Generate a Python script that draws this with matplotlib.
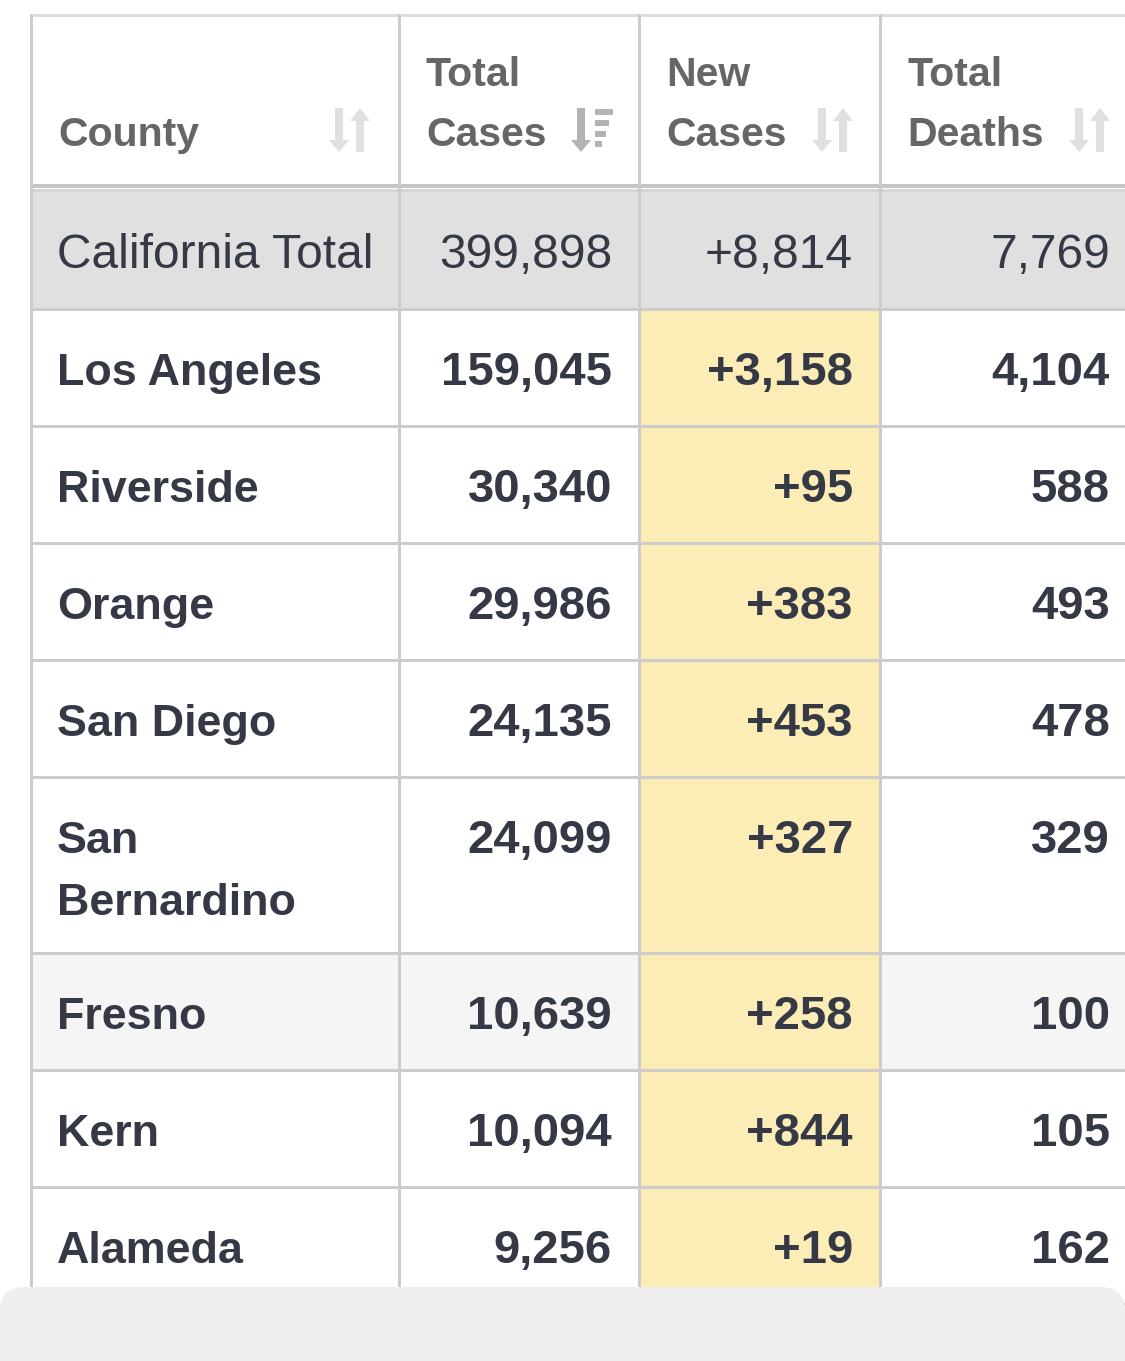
import matplotlib
matplotlib.use("Agg")
import matplotlib.pyplot as plt
from matplotlib.patches import Rectangle, Polygon, FancyBboxPatch

plt.rcParams['font.family'] = ['Liberation Sans', 'DejaVu Sans']

# 表格数据
headers = [["County"], ["Total", "Cases"], ["New", "Cases"], ["Total", "Deaths"]]
sorted_col = 1  # 当前按 Total Cases 降序排列
total_label = "California Total"
total_values = ["399,898", "+8,814", "7,769"]
counties = ["Los Angeles", "Riverside", "Orange", "San Diego", "San Bernardino",
            "Fresno", "Kern", "Alameda"]
total_cases = [159045, 30340, 29986, 24135, 24099, 10639, 10094, 9256]
new_cases = [3158, 95, 383, 453, 327, 258, 844, 19]
total_deaths = [4104, 588, 493, 478, 329, 100, 105, 162]
striped_row = 5  # Fresno 行为浅灰底

# 样式
W, H = 1125, 1361
col_x = [31, 399, 639, 880, 1140]
grid_c = '#cccccc'
head_c = '#666666'
text_c = '#353945'
yellow = '#fcedb6'
stripe = '#f5f5f5'
total_bg = '#e0e0e0'
px = 0.72  # 1 像素对应的磅值

fig = plt.figure(figsize=(W / 100, H / 100), dpi=100)
ax = fig.add_axes([0, 0, 1, 1])
ax.set_xlim(0, W)
ax.set_ylim(H, 0)
ax.axis('off')


def hline(y, c=grid_c, lw=3):
    ax.plot([col_x[0] - 1, W], [y, y], color=c, lw=lw * px, solid_capstyle='butt', zorder=3)


def sort_icon(x0, active):
    light = '#e0e0e0'
    dark = '#b3b3b3'
    c1 = dark if active else light
    # 向下箭头
    ax.add_patch(Rectangle((x0 + 6, 108), 8, 33, color=c1, lw=0, zorder=4))
    ax.add_patch(Polygon([(x0, 140), (x0 + 20, 140), (x0 + 10, 152)], closed=True,
                         color=c1, lw=0, zorder=4))
    if active:
        for (y, w) in [(109, 18), (120, 14), (131, 11), (141, 7)]:
            ax.add_patch(Rectangle((x0 + 24, y), w, 6, color=dark, lw=0, zorder=4))
    else:
        ax.add_patch(Rectangle((x0 + 27, 119), 8, 33, color=light, lw=0, zorder=4))
        ax.add_patch(Polygon([(x0 + 21, 121), (x0 + 41, 121), (x0 + 31, 108)], closed=True,
                             color=light, lw=0, zorder=4))


# 表头
for i, lines in enumerate(headers):
    base = 146
    for k, line in enumerate(reversed(lines)):
        ax.text(col_x[i] + 27, base - 60 * k, line, fontsize=29.5, fontweight='bold',
                color=head_c, ha='left', va='baseline', zorder=5)
    icon_right = [370, 612, 853, 1110][i]
    sort_icon(icon_right - 41, i == sorted_col)

# 表头下方阴影
ax.add_patch(Rectangle((col_x[0], 190), W, 118, color=total_bg, lw=0, zorder=1))
hline(15, '#dddddd', 3)
hline(186, '#c6c6c6', 4)
hline(190, '#d6d6d6', 3)

# 合计行
right_x = [612, 853, 1110]
ax.text(col_x[0] + 26, 268, total_label, fontsize=34.5, color=text_c,
        ha='left', va='baseline', zorder=5)
for j, v in enumerate(total_values):
    ax.text(right_x[j], 268, v, fontsize=34.5, color=text_c, ha='right',
            va='baseline', zorder=5)
hline(308.5)

# 名称换行（超出列宽时）
renderer = fig.canvas.get_renderer()
max_w = col_x[1] - col_x[0] - 52
name_fs = 32.3
num_fs = 34


def wrap_name(name):
    t = ax.text(0, 0, name, fontsize=name_fs, fontweight='bold')
    w = t.get_window_extent(renderer).width
    t.remove()
    if w <= max_w:
        return [name]
    parts = name.split(' ')
    return [' '.join(parts[:-1]), parts[-1]]


top = 308.5
for r, name in enumerate(counties):
    lines = wrap_name(name)
    h = 117 + 59.5 * (len(lines) - 1)
    if r == striped_row:
        ax.add_patch(Rectangle((col_x[0], top), W, h, color=stripe, lw=0, zorder=1))
    ax.add_patch(Rectangle((col_x[2], top), col_x[3] - col_x[2], h, color=yellow,
                           lw=0, zorder=1.5))
    base = top + 76
    for k, line in enumerate(lines):
        ax.text(col_x[0] + 26, base + 62 * k, line, fontsize=name_fs, fontweight='bold',
                color=text_c, ha='left', va='baseline', zorder=5)
    vals = [f"{total_cases[r]:,}", f"+{new_cases[r]:,}", f"{total_deaths[r]:,}"]
    for j, v in enumerate(vals):
        ax.text(right_x[j], base, v, fontsize=num_fs, fontweight='bold', color=text_c,
                ha='right', va='baseline', zorder=5)
    top += h
    hline(top)

# 竖线
for x in col_x[:4]:
    ax.plot([x, x], [15, H], color=grid_c, lw=3 * px, zorder=3)

# 底部灰色面板
ax.add_patch(FancyBboxPatch((0, 1287), W, 200, boxstyle="round,pad=0,rounding_size=24",
                            facecolor='#efefef', edgecolor='none', zorder=6))

fig.savefig('out.png', dpi=100, facecolor='white')
